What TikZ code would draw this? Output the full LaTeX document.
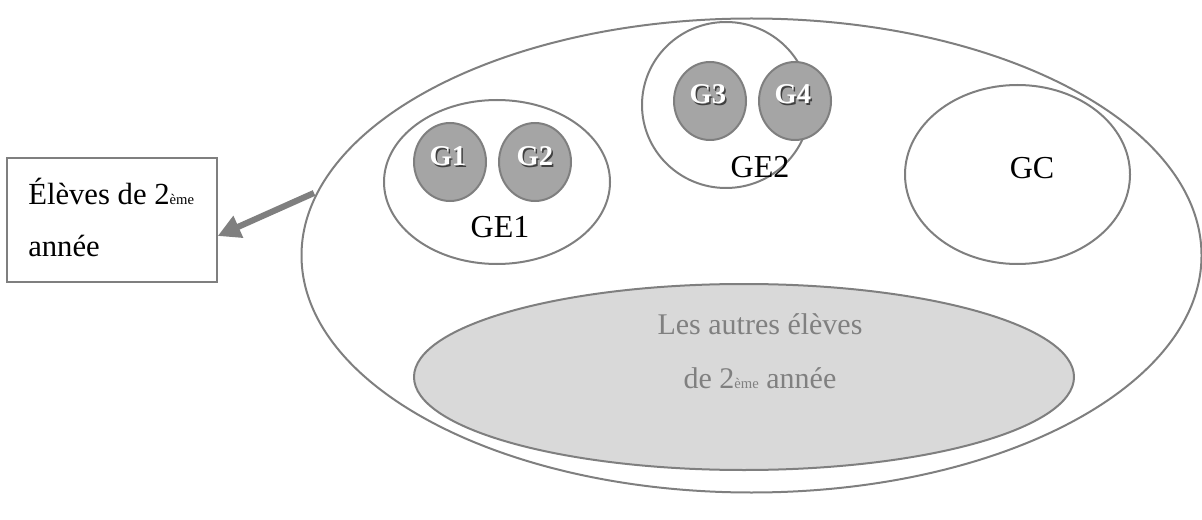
\documentclass[tikz,border=0pt]{standalone}
\usepackage{fontspec}
\setmainfont{Liberation Serif}
\usetikzlibrary{shapes.geometric,arrows.meta}
\definecolor{lineg}{HTML}{7F7F7F}
\definecolor{circfill}{HTML}{A5A5A5}
\definecolor{lightfill}{HTML}{D9D9D9}
\definecolor{txtg}{HTML}{808080}
\newcommand\shadowlbl[1]{\makebox[0pt][l]{\hspace{1pt}\raisebox{-1pt}{\textcolor{black!75}{#1}}}\textcolor{white}{#1}}
\newcommand\supsmall[1]{{\fontsize{11}{11}\selectfont #1}}
\tikzset{
  outline/.style={ellipse, draw=lineg, line width=1.5pt, inner sep=0pt},
  gcircle/.style={ellipse, draw=lineg, fill=circfill, line width=1.5pt, inner sep=0pt,
                  minimum width=54pt, minimum height=58.5pt},
  glabel/.style={font=\fontsize{21.5}{21.5}\selectfont\bfseries, inner sep=0pt},
  lbl/.style={font=\fontsize{24}{24}\selectfont, inner sep=0pt},
}
\begin{document}
\begin{tikzpicture}[x=0.75pt,y=-0.75pt]
\useasboundingbox (0,0) rectangle (1202,520);
% big ellipse
\node[outline, minimum width=675pt, minimum height=355.5pt] (big) at (751.5,255.5) {};
% GE1
\node[outline, minimum width=169.5pt, minimum height=123pt] (ge1) at (497,182) {};
\node[gcircle] (g1) at (450,162) {};
\node[gcircle] (g2) at (535,162) {};
\node[glabel] (g1l) at (448,157) {\shadowlbl{G1}};
\node[glabel] (g2l) at (535,157) {\shadowlbl{G2}};
\node[lbl] (ge1l) at (500,227) {GE1};
% GE2
\node[outline, minimum width=126pt, minimum height=124.5pt] (ge2) at (726,105) {};
\node[gcircle] (g3) at (710,101) {};
\node[gcircle] (g4) at (795,101) {};
\node[glabel] (g3l) at (708,95) {\shadowlbl{G3}};
\node[glabel] (g4l) at (793,95) {\shadowlbl{G4}};
\node[lbl] (ge2l) at (760,167) {GE2};
% GC
\node[outline, minimum width=168.75pt, minimum height=134.25pt] (gc) at (1017.5,174.5) {};
\node[lbl] (gcl) at (1032,168) {GC};
% others
\node[outline, fill=lightfill, minimum width=495pt, minimum height=139.5pt] (others) at (744,377) {};
\node[lbl, text=txtg, align=center, font=\fontsize{22.5}{40.5}\selectfont] (othersl) at (760,351)
  {Les autres élèves\\de 2\supsmall{ème} année};
% box
\node[draw=lineg, line width=1pt, minimum width=157.5pt, minimum height=93pt, inner sep=0pt] (box) at (112,220) {};
\node[lbl, anchor=north west, align=left, font=\fontsize{23}{39}\selectfont] (boxl) at (28,178)
  {Élèves de 2\supsmall{ème}\\année};
% arrow
\coordinate (astart) at (314,193);
\draw[lineg, line width=4.6pt, -{Triangle[length=17pt,width=17pt]}] (astart) -- ([yshift=-12pt]box.east);
\end{tikzpicture}
\end{document}
